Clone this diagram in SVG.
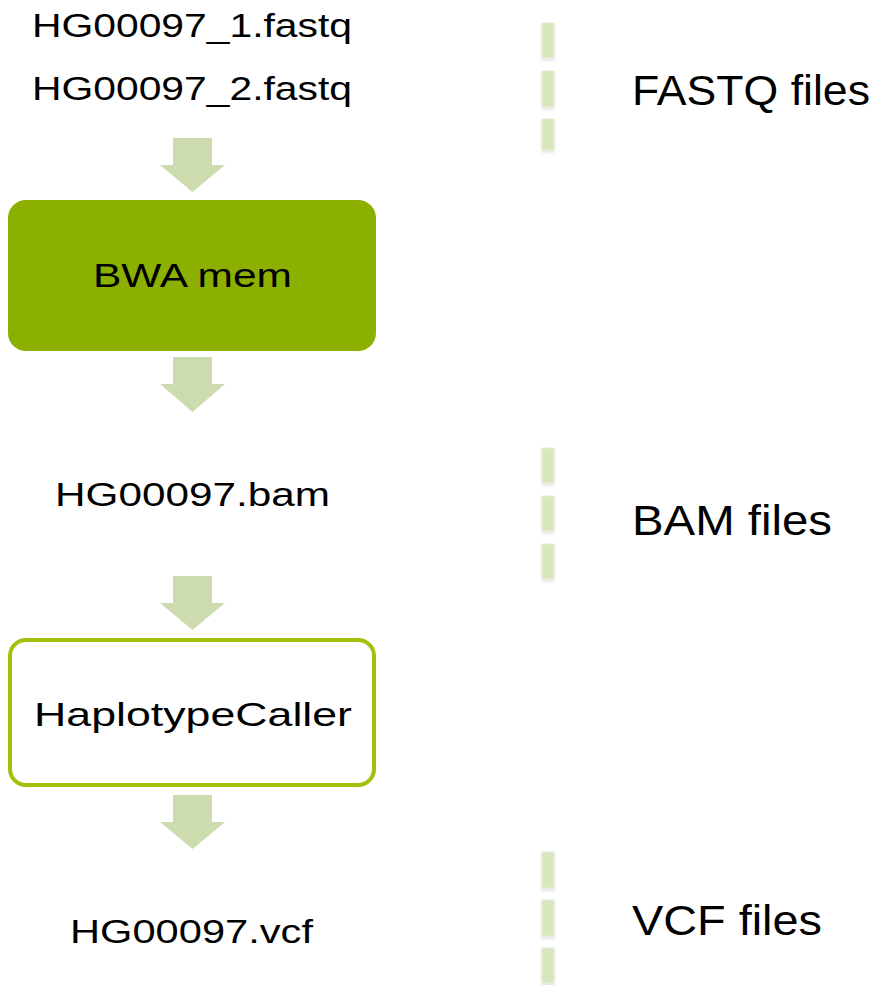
<svg xmlns="http://www.w3.org/2000/svg" width="878" height="985" viewBox="0 0 878 985">
<defs>
<style>
.t{font-family:"Liberation Sans","DejaVu Sans",sans-serif;fill:#000;}
.s{font-size:34px;}
.l{font-size:42px;}
.arr{fill:#cddcae;}
.dash{fill:#d8e6bd;stroke:#e6eed6;stroke-width:1;}
</style>
<filter id="sh" x="-50%" y="-20%" width="200%" height="150%">
<feGaussianBlur in="SourceAlpha" stdDeviation="1.5"/>
<feOffset dy="2" result="b"/>
<feComponentTransfer><feFuncA type="linear" slope="0.12"/></feComponentTransfer>
<feMerge><feMergeNode/><feMergeNode in="SourceGraphic"/></feMerge>
</filter>
</defs>
<rect width="878" height="985" fill="#fff"/>
<g id="connectors">
<polygon class="arr" points="173,138 212,138 212,165 225,165 192.5,192 160,165 173,165"/>
<polygon class="arr" points="173,357 212,357 212,384 225,384 192.5,412 160,384 173,384"/>
<polygon class="arr" points="173,576 212,576 212,603 225,603 192.5,630 160,603 173,603"/>
<polygon class="arr" points="173,795 212,795 212,822 225,822 192.5,849 160,822 173,822"/>
</g>
<g id="dividers" filter="url(#sh)">
<rect class="dash" x="542" y="23" width="12" height="35"/>
<rect class="dash" x="542" y="71" width="12" height="36"/>
<rect class="dash" x="542" y="119" width="12" height="31"/>
<rect class="dash" x="542" y="448" width="12" height="35"/>
<rect class="dash" x="542" y="496" width="12" height="35"/>
<rect class="dash" x="542" y="544" width="12" height="35"/>
<rect class="dash" x="542" y="852" width="12" height="36"/>
<rect class="dash" x="542" y="900" width="12" height="36"/>
<rect class="dash" x="542" y="948" width="12" height="35"/>
</g>
<g id="fastq-inputs">
<text class="t s" x="32" y="37" textLength="320" lengthAdjust="spacingAndGlyphs">HG00097_1.fastq</text>
<text class="t s" x="32" y="100" textLength="320" lengthAdjust="spacingAndGlyphs">HG00097_2.fastq</text>
</g>
<g id="fastq-label">
<text class="t l" x="632" y="105" textLength="238" lengthAdjust="spacingAndGlyphs">FASTQ files</text>
</g>
<g id="bwa-mem">
<rect x="8" y="200" width="368" height="151" rx="18" fill="#8cb000"/>
<text class="t s" x="93" y="287" textLength="199" lengthAdjust="spacingAndGlyphs">BWA mem</text>
</g>
<g id="bam-file">
<text class="t s" x="55" y="506" textLength="275" lengthAdjust="spacingAndGlyphs">HG00097.bam</text>
</g>
<g id="bam-label">
<text class="t l" x="632" y="535" textLength="200" lengthAdjust="spacingAndGlyphs">BAM files</text>
</g>
<g id="haplotypecaller">
<rect x="10" y="640" width="364" height="145" rx="16" fill="#fff" stroke="#9ec30a" stroke-width="4"/>
<text class="t s" x="34" y="726" textLength="318" lengthAdjust="spacingAndGlyphs">HaplotypeCaller</text>
</g>
<g id="vcf-file">
<text class="t s" x="70" y="943" textLength="243" lengthAdjust="spacingAndGlyphs">HG00097.vcf</text>
</g>
<g id="vcf-label">
<text class="t l" x="632" y="935" textLength="190" lengthAdjust="spacingAndGlyphs">VCF files</text>
</g>
</svg>
